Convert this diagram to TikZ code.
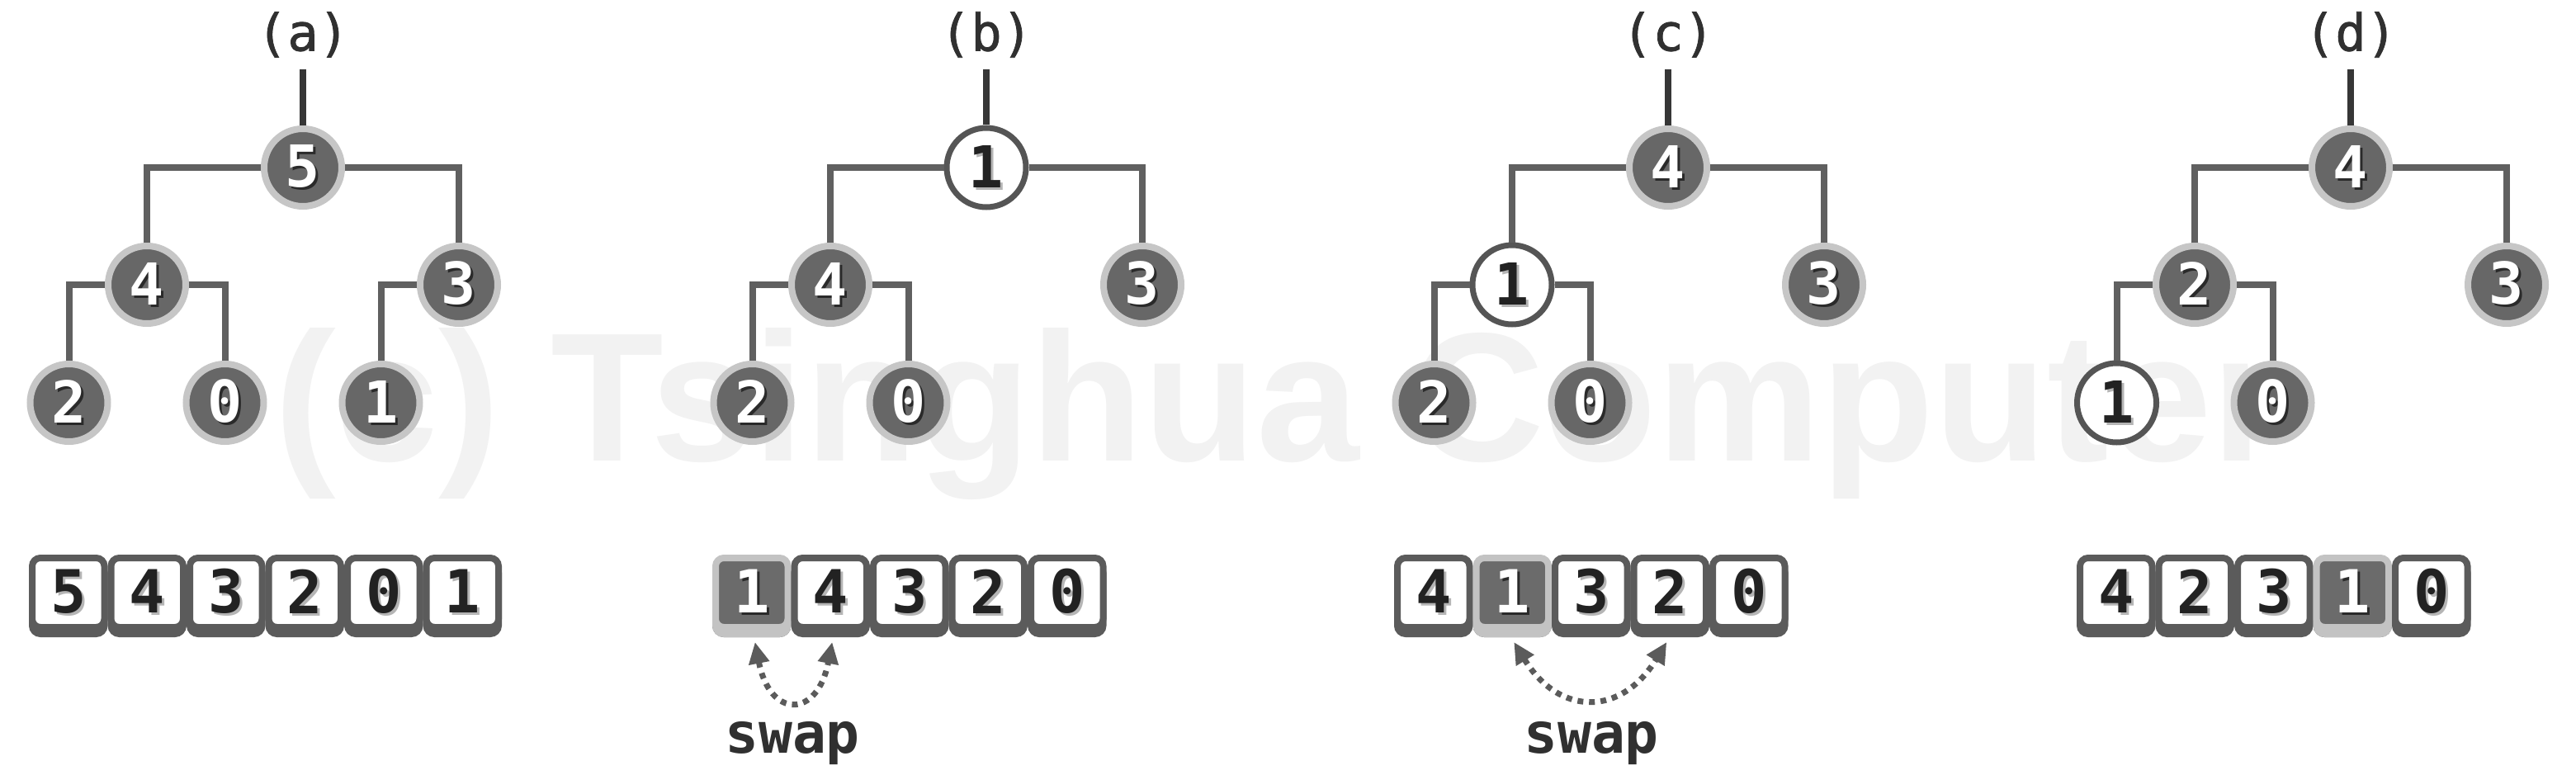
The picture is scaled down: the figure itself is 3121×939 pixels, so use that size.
\documentclass[tikz,border=0pt]{standalone}
\usepackage{fontspec}
\usepackage{graphicx}
\setmonofont{DejaVu Sans Mono}
\newfontfamily\wmfont{Liberation Sans}
\newfontfamily\lblfont[FakeBold=1.2]{DejaVu Sans Mono}
\usetikzlibrary{arrows.meta,calc,shadows}
\definecolor{nodegray}{HTML}{676767}
\definecolor{ringgray}{HTML}{C6C6C6}
\definecolor{linegray}{HTML}{606060}
\definecolor{rootgray}{HTML}{363636}
\definecolor{wborder}{HTML}{555555}
\definecolor{cellborder}{HTML}{5B5B5B}
\definecolor{hlfill}{HTML}{6B6B6B}
\definecolor{hlborder}{HTML}{C3C3C3}
\definecolor{digitdark}{HTML}{222222}
\definecolor{shdark}{HTML}{2A2A2A}
\definecolor{shlight}{HTML}{B5B5B5}
\definecolor{lblgray}{HTML}{303030}
\definecolor{wmgray}{HTML}{F2F2F2}
\newcommand\sdig[3]{\rlap{\kern3pt\raisebox{-3pt}{\textcolor{#2}{#3}}}\textcolor{#1}{#3}}
\newcommand\wdig[1]{\sdig{white}{shdark}{#1}}
\newcommand\ddig[1]{\sdig{digitdark}{shlight}{#1}}
\tikzset{
  x=1pt, y=-1pt,
  dnode/.style={circle, minimum size=94pt, inner sep=0pt, line width=8pt, draw=ringgray, fill=nodegray,
    font=\fontsize{70}{70}\selectfont\ttfamily\bfseries},
  wnode/.style={circle, minimum size=96pt, inner sep=0pt, line width=7pt, draw=wborder, fill=white,
    font=\fontsize{70}{70}\selectfont\ttfamily\bfseries},
  edge/.style={line width=8pt, draw=linegray},
  rootedge/.style={line width=8pt, draw=rootgray},
  lbl/.style={inner sep=0pt, text=lblgray, font=\fontsize{62}{62}\selectfont\lblfont},
  cellbox/.style={rectangle, rounded corners=10pt, minimum width=87.5pt, minimum height=84pt, inner sep=0pt,
    line width=8pt, draw=cellborder, fill=white,
    general shadow={shadow yshift=-8pt, fill=cellborder, draw=cellborder},
    font=\fontsize{72}{72}\selectfont\ttfamily\bfseries},
  hcellbox/.style={cellbox, draw=hlborder, fill=hlfill,
    general shadow={shadow yshift=-8pt, fill=hlborder, draw=hlborder}},
  swaparrow/.style={line width=7pt, draw=cellborder, dash pattern=on 7pt off 7pt,
    {Triangle[length=26pt,width=24pt,fill=cellborder]}-{Triangle[length=26pt,width=24pt,fill=cellborder]}},
  swaplbl/.style={inner sep=0pt, anchor=base, text=lblgray, font=\fontsize{68}{68}\selectfont\ttfamily\bfseries},
}
\begin{document}
\begin{tikzpicture}
\useasboundingbox (0,0) rectangle (3121,939);
\fill[white] (0,0) rectangle (3121,939);
% watermark
\node[anchor=north west, inner sep=0pt, text=wmgray] (wm) at (332,397)
  {\resizebox*{2430pt}{208pt}{\wmfont\bfseries (c) Tsinghua Computer}};

% ---------- panel (a) ----------
\node[lbl] (aL) at (367,42) {(a)};
\coordinate (aT) at (367,84);
\node[dnode] (a5) at (367,203) {\wdig{5}};
\node[dnode] (a4) at (178,345) {\wdig{4}};
\node[dnode] (a3) at (556,345) {\wdig{3}};
\node[dnode] (a2) at (83.5,488) {\wdig{2}};
\node[dnode] (a0) at (272.5,488) {\wdig{0}};
\node[dnode] (a1) at (461.5,488) {\wdig{1}};
\draw[rootedge] (aT) -- (a5);
\draw[edge] (a5) -| (a4);
\draw[edge] (a5) -| (a3);
\draw[edge] (a4) -| (a2);
\draw[edge] (a4) -| (a0);
\draw[edge] (a3) -| (a1);
\node[cellbox] (aa1) at (82.75,718) {\ddig{5}};
\node[cellbox] (aa2) at (178.25,718) {\ddig{4}};
\node[cellbox] (aa3) at (273.75,718) {\ddig{3}};
\node[cellbox] (aa4) at (369.25,718) {\ddig{2}};
\node[cellbox] (aa5) at (464.75,718) {\ddig{0}};
\node[cellbox] (aa6) at (560.25,718) {\ddig{1}};

% ---------- panel (b) ----------
\node[lbl] (bL) at (1195,42) {(b)};
\coordinate (bT) at (1195,84);
\node[wnode] (b1) at (1195,203) {\ddig{1}};
\node[dnode] (b4) at (1006,345) {\wdig{4}};
\node[dnode] (b3) at (1384,345) {\wdig{3}};
\node[dnode] (b2) at (911.5,488) {\wdig{2}};
\node[dnode] (b0) at (1100.5,488) {\wdig{0}};
\draw[rootedge] (bT) -- (b1);
\draw[edge] (b1) -| (b4);
\draw[edge] (b1) -| (b3);
\draw[edge] (b4) -| (b2);
\draw[edge] (b4) -| (b0);
\node[hcellbox] (ba1) at (910.75,718) {\wdig{1}};
\node[cellbox] (ba2) at (1006.25,718) {\ddig{4}};
\node[cellbox] (ba3) at (1101.75,718) {\ddig{3}};
\node[cellbox] (ba4) at (1197.25,718) {\ddig{2}};
\node[cellbox] (ba5) at (1292.75,718) {\ddig{0}};
\coordinate (bs) at ($(ba1.south)+(4,14)$);
\coordinate (be) at ($(ba2.south)+(2,14)$);
\draw[swaparrow] (bs) .. controls ($(bs)+(18,93)$) and ($(be)+(-18,93)$) .. (be);
\node[swaplbl] (bw) at (960,912) {swap};

% ---------- panel (c) ----------
\node[lbl] (cL) at (2021,42) {(c)};
\coordinate (cT) at (2021,84);
\node[dnode] (c4) at (2021,203) {\wdig{4}};
\node[wnode] (c1) at (1832,345) {\ddig{1}};
\node[dnode] (c3) at (2210,345) {\wdig{3}};
\node[dnode] (c2) at (1737.5,488) {\wdig{2}};
\node[dnode] (c0) at (1926.5,488) {\wdig{0}};
\draw[rootedge] (cT) -- (c4);
\draw[edge] (c4) -| (c1);
\draw[edge] (c4) -| (c3);
\draw[edge] (c1) -| (c2);
\draw[edge] (c1) -| (c0);
\node[cellbox] (ca1) at (1736.75,718) {\ddig{4}};
\node[hcellbox] (ca2) at (1832.25,718) {\wdig{1}};
\node[cellbox] (ca3) at (1927.75,718) {\ddig{3}};
\node[cellbox] (ca4) at (2023.25,718) {\ddig{2}};
\node[cellbox] (ca5) at (2118.75,718) {\ddig{0}};
\coordinate (cs) at ($(ca2.south)+(2,14)$);
\coordinate (ce) at ($(ca4.south)+(-4,14)$);
\draw[swaparrow] (cs) .. controls ($(cs)+(55,90)$) and ($(ce)+(-55,90)$) .. (ce);
\node[swaplbl] (cw) at (1928,912) {swap};

% ---------- panel (d) ----------
\node[lbl] (dL) at (2848,42) {(d)};
\coordinate (dT) at (2848,84);
\node[dnode] (d4) at (2848,203) {\wdig{4}};
\node[dnode] (d2) at (2659,345) {\wdig{2}};
\node[dnode] (d3) at (3037,345) {\wdig{3}};
\node[wnode] (d1) at (2564.5,488) {\ddig{1}};
\node[dnode] (d0) at (2753.5,488) {\wdig{0}};
\draw[rootedge] (dT) -- (d4);
\draw[edge] (d4) -| (d2);
\draw[edge] (d4) -| (d3);
\draw[edge] (d2) -| (d1);
\draw[edge] (d2) -| (d0);
\node[cellbox] (da1) at (2563.75,718) {\ddig{4}};
\node[cellbox] (da2) at (2659.25,718) {\ddig{2}};
\node[cellbox] (da3) at (2754.75,718) {\ddig{3}};
\node[hcellbox] (da4) at (2850.25,718) {\wdig{1}};
\node[cellbox] (da5) at (2945.75,718) {\ddig{0}};
\end{tikzpicture}
\end{document}
